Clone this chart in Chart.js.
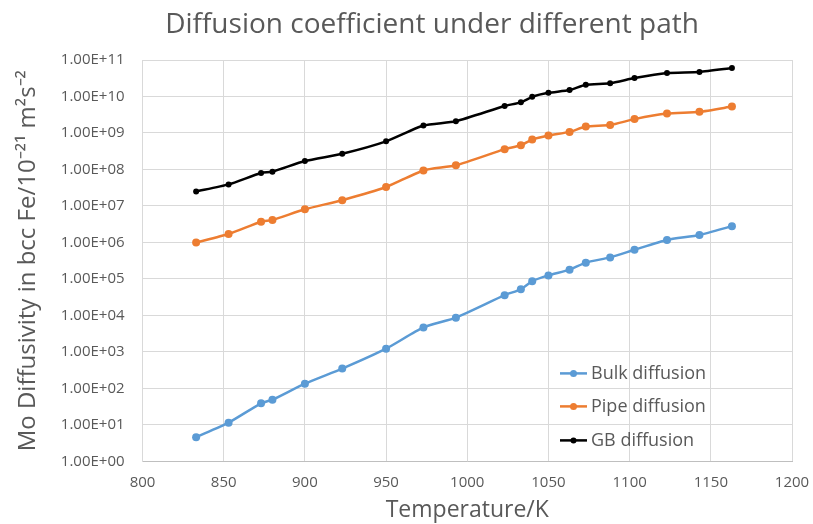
<!DOCTYPE html>
<html>
<head>
<meta charset="utf-8">
<script src="https://cdn.jsdelivr.net/npm/chart.js@4.4.0/dist/chart.umd.min.js"></script>
<style>
html, body { margin: 0; padding: 0; background: #fff; }
#wrap { width: 813px; height: 524px; }
</style>
</head>
<body>
<div id="wrap"><canvas id="grafico"></canvas></div>
<script>
// temperature (K) and diffusivity values
const temperaturas = [833, 853, 873, 880, 900, 923, 950, 973, 993, 1023, 1033, 1040, 1050, 1063, 1073, 1088, 1103, 1123, 1143, 1163]
const bulk = [4.6, 11.5, 39, 49, 135, 350, 1230, 4700, 8700, 3.6e4, 5.2e4, 8.7e4, 1.25e5, 1.8e5, 2.8e5, 3.9e5, 6.3e5, 1.17e6, 1.6e6, 2.8e6]
const pipe = [1.0e6, 1.7e6, 3.7e6, 4.1e6, 8.1e6, 1.44e7, 3.3e7, 9.4e7, 1.3e8, 3.6e8, 4.6e8, 6.6e8, 8.5e8, 1.07e9, 1.5e9, 1.65e9, 2.4e9, 3.4e9, 3.8e9, 5.3e9]
const gb = [2.5e7, 3.9e7, 8.0e7, 8.7e7, 1.7e8, 2.7e8, 5.9e8, 1.6e9, 2.1e9, 5.5e9, 6.9e9, 9.8e9, 1.26e10, 1.5e10, 2.1e10, 2.3e10, 3.2e10, 4.4e10, 4.7e10, 6.0e10]
const etiquetas = ['Bulk diffusion', 'Pipe diffusion', 'GB diffusion']
const ticksX = [800, 850, 900, 950, 1000, 1050, 1100, 1150, 1200]
const ticksY = [1e0, 1e1, 1e2, 1e3, 1e4, 1e5, 1e6, 1e7, 1e8, 1e9, 1e10, 1e11]

const colores = ['#5b9bd5', '#ed7d31', '#000000']
const fuente = '"Open Sans", sans-serif'
const gris = '#595959'
const nada = 'rgba(0,0,0,0)'

const puntos = (serie) => temperaturas.map((t, i) => ({ x: t, y: serie[i] }))
const formatoE = (v) => '1.00E+' + String(Math.round(Math.log10(v))).padStart(2, '0')

// title drawn by hand so it can sit where Excel put it
const titulo = {
  id: 'titulo',
  afterDraw(chart) {
    const c = chart.ctx
    c.save()
    c.font = '28px ' + fuente
    c.fillStyle = gris
    c.textAlign = 'center'
    c.textBaseline = 'middle'
    c.fillText('Diffusion coefficient under different path', 432, 25)
    c.restore()
  }
}

// legend inside the plot, line + dot like Excel
const leyenda = {
  id: 'leyenda',
  afterDraw(chart) {
    const c = chart.ctx
    const area = chart.chartArea
    const x0 = area.right - 232
    const filas = [88, 55, 21]
    c.save()
    c.font = '18px ' + fuente
    c.textBaseline = 'middle'
    chart.data.datasets.forEach((ds, i) => {
      const y = area.bottom - filas[i]
      c.strokeStyle = ds.borderColor
      c.lineWidth = 2.5
      c.beginPath()
      c.moveTo(x0, y)
      c.lineTo(x0 + 27, y)
      c.stroke()
      c.fillStyle = ds.borderColor
      c.beginPath()
      c.arc(x0 + 13.5, y, i == 2 ? 3 : 3.5, 0, Math.PI * 2)
      c.fill()
      c.fillStyle = gris
      c.fillText(ds.label, x0 + 31, y)
    })
    c.restore()
  }
}

const series = [bulk, pipe, gb]

new Chart(document.getElementById('grafico'), {
  type: 'line',
  data: {
    datasets: series.map((s, i) => ({
      label: etiquetas[i],
      data: puntos(s),
      borderColor: colores[i],
      backgroundColor: colores[i],
      borderWidth: 2.5,
      pointRadius: i == 2 ? 3 : 4,
      pointBorderWidth: 0,
      tension: 0.2
    }))
  },
  options: {
    responsive: true,
    maintainAspectRatio: false,
    animation: false,
    layout: { padding: { top: 60, right: 21, left: 8, bottom: 0 } },
    plugins: {
      legend: { display: false },
      title: { display: false },
      tooltip: { enabled: false }
    },
    scales: {
      x: {
        type: 'linear',
        min: 800,
        max: 1200,
        afterBuildTicks: (axis) => { axis.ticks = ticksX.map(v => ({ value: v })) },
        grid: { color: '#d9d9d9', tickColor: nada, tickLength: 9 },
        border: { color: '#bfbfbf' },
        ticks: { color: gris, font: { family: fuente, size: 15 }, padding: 3, callback: (v) => String(v) },
        title: {
          display: true,
          text: 'Temperature/K',
          color: gris,
          font: { family: fuente, size: 23 },
          padding: { top: 2, bottom: 0 }
        }
      },
      y: {
        type: 'logarithmic',
        min: 1,
        max: 1e11,
        afterBuildTicks: (axis) => { axis.ticks = ticksY.map(v => ({ value: v })) },
        grid: { color: '#d9d9d9', tickColor: nada, tickLength: 15 },
        border: { color: '#d9d9d9' },
        ticks: { color: gris, font: { family: fuente, size: 15 }, padding: 3, callback: (v) => formatoE(v) },
        title: {
          display: true,
          text: 'Mo Diffusivity in bcc Fe/10⁻²¹ m²s⁻²',
          color: gris,
          font: { family: fuente, size: 24 },
          padding: { top: 6, bottom: 15 }
        }
      }
    }
  },
  plugins: [titulo, leyenda]
})
</script>
</body>
</html>
